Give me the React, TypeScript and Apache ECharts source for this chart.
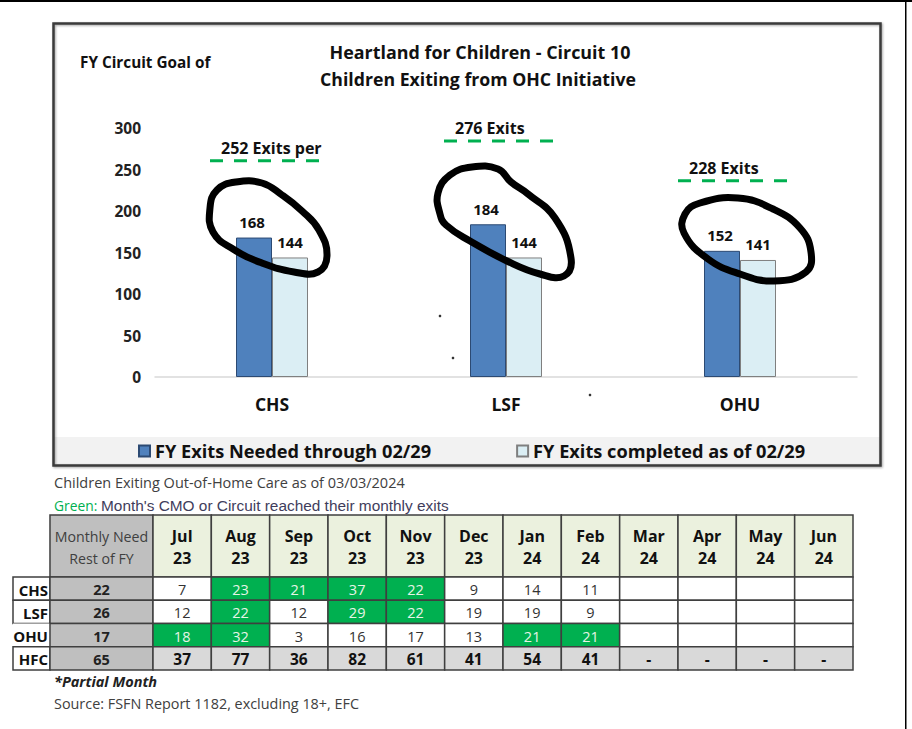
import React, { useEffect, useRef } from "react";
import * as echarts from "echarts";

// ---------- data ----------
const categories = ["CHS", "LSF", "OHU"];
const neededValues = [168, 184, 152];
const completedValues = [144, 144, 141];
const goalValues = [252, 276, 228];
const goalLabels = ["252 Exits per", "276 Exits", "228 Exits"];
const seriesNames = ["FY Exits Needed through 02/29", "FY Exits completed as of 02/29"];

const months = ["Jul\n23", "Aug\n23", "Sep\n23", "Oct\n23", "Nov\n23", "Dec\n23", "Jan\n24", "Feb\n24", "Mar\n24", "Apr\n24", "May\n24", "Jun\n24"];
const rowNames = ["CHS", "LSF", "OHU", "HFC"];
const monthlyNeed = [22, 26, 17, 65];
const chsMonthly = [7, 23, 21, 37, 22, 9, 14, 11];
const lsfMonthly = [12, 22, 12, 29, 22, 19, 19, 9];
const ohuMonthly = [18, 32, 3, 16, 17, 13, 21, 21];
const hfcMonthly = [37, 77, 36, 82, 61, 41, 54, 41];
const chsGreen = [0, 1, 1, 1, 1, 0, 0, 0];
const lsfGreen = [0, 1, 0, 1, 1, 0, 0, 0];
const ohuGreen = [1, 1, 0, 0, 0, 0, 1, 1];

const FONT = "'Open Sans', Lato, 'Noto Sans', sans-serif";

type Cell = {
  x0: number; x1: number; y0: number; y1: number;
  text: string; fill: string; color: string; bold: boolean; size: number;
  border: boolean; align?: string;
};

function buildCells(): Cell[] {
  const cells: Cell[] = [];
  const HEAD = -2.667;
  const NEED0 = -1.766;
  const LAB0 = -2.4;
  cells.push({ x0: NEED0, x1: 0, y0: HEAD, y1: 0, text: "Monthly Need\nRest of FY", fill: "#bfbfbf", color: "#404040", bold: false, size: 14.2, border: true });
  months.forEach((m, i) => {
    cells.push({ x0: i, x1: i + 1, y0: HEAD, y1: 0, text: m, fill: "#ebf1de", color: "#111", bold: true, size: 16, border: true });
  });
  const vals = [chsMonthly, lsfMonthly, ohuMonthly, hfcMonthly];
  const greens = [chsGreen, lsfGreen, ohuGreen, []];
  rowNames.forEach((name, r) => {
    const isTotal = r === 3;
    cells.push({ x0: LAB0, x1: NEED0, y0: r, y1: r + 1, text: name, fill: "#ffffff", color: "#111", bold: true, size: 15, border: r !== 2, align: "right" });
    cells.push({ x0: NEED0, x1: 0, y0: r, y1: r + 1, text: String(monthlyNeed[r]), fill: "#bfbfbf", color: "#222", bold: true, size: 14.5, border: true });
    months.forEach((_, i) => {
      const v = vals[r][i];
      const g = greens[r][i] === 1;
      let text = v === undefined ? "" : String(v);
      if (isTotal && v === undefined) text = "-";
      cells.push({
        x0: i, x1: i + 1, y0: r, y1: r + 1, text,
        fill: g ? "#00b050" : isTotal ? "#d9d9d9" : "#ffffff",
        color: g ? "#e6f4e6" : isTotal ? "#111" : "#333",
        bold: isTotal, size: isTotal ? 15.5 : 14.5, border: true,
      });
    });
  });
  return cells;
}

const loops: number[][][] = [
  [[213, 232], [210, 208], [217, 190], [236, 182], [262, 183], [282, 195], [302, 211], [319, 230], [327, 256], [318, 272], [294, 272], [262, 263], [233, 249]],
  [[440, 214], [438, 193], [450, 175], [472, 167], [498, 169], [511, 182], [528, 194], [555, 218], [571, 258], [564, 276], [540, 274], [507, 261], [470, 241], [446, 225]],
  [[684, 233], [685, 214], [700, 203], [738, 198], [773, 209], [800, 228], [811, 252], [806, 272], [774, 281], [740, 274], [708, 259]],
];

function txt(text: string, x: number, y: number, font: string, fill: string, align = "left") {
  return {
    type: "text", z: 10,
    style: { text, x, y, fill, font, align, textAlign: align, verticalAlign: "middle", textVerticalAlign: "middle" },
  };
}

export default function App() {
  const ref = useRef<HTMLDivElement>(null);
  useEffect(() => {
    if (!ref.current) return;
    const chart = echarts.init(ref.current, undefined, { renderer: "svg" });
    const cells = buildCells();

    const graphics: any[] = [
      // page frame
      { type: "rect", shape: { x: 0, y: 0, width: 912, height: 2 }, style: { fill: "#000" }, z: 1 },
      { type: "rect", shape: { x: 905, y: 0, width: 1.5, height: 729 }, style: { fill: "#000" }, z: 1 },
      // legend band
      { type: "rect", shape: { x: 54, y: 437, width: 826, height: 28 }, style: { fill: "#f2f2f2" }, z: -1 },
      // chart box
      { type: "rect", shape: { x: 53.5, y: 23.5, width: 827, height: 442 }, style: { fill: "none", stroke: "#3a3a3a", lineWidth: 2.5, shadowBlur: 2, shadowColor: "rgba(0,0,0,0.35)", shadowOffsetX: 1, shadowOffsetY: 1 }, z: 5 },
      // titles
      txt("Heartland for Children - Circuit 10", 480, 52, `bold 17.9px ${FONT}`, "#111", "center"),
      txt("Children Exiting from OHC Initiative", 478, 79, `bold 17.7px ${FONT}`, "#111", "center"),
      txt("FY Circuit Goal of", 80, 62, `bold 15.3px ${FONT}`, "#111"),
      // stray dots
      { type: "circle", shape: { cx: 440, cy: 316, r: 1.3 }, style: { fill: "#333" }, z: 10 },
      { type: "circle", shape: { cx: 453, cy: 358, r: 1.3 }, style: { fill: "#333" }, z: 10 },
      { type: "circle", shape: { cx: 590, cy: 395, r: 1.3 }, style: { fill: "#333" }, z: 10 },
      // texts under chart
      txt("Children Exiting Out-of-Home Care as of 03/03/2024", 54, 482, `14.5px ${FONT}`, "#404040"),
      txt("Green:", 54, 505, `13.8px ${FONT}`, "#00b050"),
      txt("Month's CMO or Circuit reached their monthly exits", 101, 505, `15.4px 'Liberation Sans', Arial, sans-serif`, "#3f3d5c"),
      txt("*Partial Month", 54, 681, `italic bold 14.5px ${FONT}`, "#222"),
      txt("Source: FSFN Report 1182, excluding 18+, EFC", 54, 703, `14.4px ${FONT}`, "#404040"),
    ];
    loops.forEach((pts) => {
      graphics.push({ type: "polygon", shape: { points: pts, smooth: 0.45 }, style: { fill: "none", stroke: "#000", lineWidth: 7 }, z: 100 });
    });

    chart.setOption({
      animation: false,
      backgroundColor: "#ffffff",
      textStyle: { fontFamily: FONT },
      grid: [
        { left: 155, top: 128, width: 702, height: 249 },
        { left: 13, top: 515, width: 840, height: 155 },
      ],
      legend: {
        left: 133, top: 437, itemWidth: 11, itemHeight: 11, itemGap: 85, icon: "rect",
        data: seriesNames,
        textStyle: { fontFamily: FONT, fontWeight: "bold", fontSize: 18.2, color: "#111" },
      },
      xAxis: [
        {
          type: "category", gridIndex: 0, data: categories,
          axisLine: { lineStyle: { color: "#d9d9d9", width: 1.5 } },
          axisTick: { show: false },
          axisLabel: { fontFamily: FONT, fontWeight: "bold", fontSize: 17.5, color: "#111", margin: 18 },
        },
        { type: "value", gridIndex: 1, min: -2.4, max: 12, show: false },
      ],
      yAxis: [
        {
          type: "value", gridIndex: 0, min: 0, max: 300, interval: 50,
          axisLine: { show: false }, axisTick: { show: false }, splitLine: { show: false },
          axisLabel: { fontFamily: FONT, fontWeight: "bold", fontSize: 15.5, color: "#222", margin: 14 },
        },
        { type: "value", gridIndex: 1, min: -2.667, max: 4, inverse: true, show: false },
      ],
      series: [
        {
          name: seriesNames[0], type: "bar", xAxisIndex: 0, yAxisIndex: 0,
          data: neededValues, barWidth: 36, barGap: "0%",
          itemStyle: { color: "#4f81bd", borderColor: "#2c4a73", borderWidth: 1 },
          label: { show: true, position: "top", distance: 8, fontFamily: FONT, fontWeight: "bold", fontSize: 15, color: "#111", offset: [-2, 0] },
        },
        {
          name: seriesNames[1], type: "bar", xAxisIndex: 0, yAxisIndex: 0,
          data: completedValues, barWidth: 36, barGap: "0%",
          itemStyle: { color: "#dbeef4", borderColor: "#7f7f7f", borderWidth: 1 },
          label: { show: true, position: "top", distance: 8, fontFamily: FONT, fontWeight: "bold", fontSize: 15, color: "#111" },
        },
        {
          type: "custom", xAxisIndex: 0, yAxisIndex: 0, silent: true, z: 20,
          data: goalValues.map((v, i) => [i, v]),
          renderItem: (params: any, api: any) => {
            const p = api.coord([api.value(0), api.value(1)]);
            const y = p[1] - 7;
            return {
              type: "group",
              children: [
                { type: "line", shape: { x1: p[0] - 62, y1: y, x2: p[0] + 50, y2: y }, style: { stroke: "#00b050", lineWidth: 3, lineDash: [13, 11] } },
                { type: "text", style: { text: goalLabels[params.dataIndex], x: p[0] - 51, y: y - 13, fill: "#111", font: `bold 16px ${FONT}`, align: "left", textAlign: "left", verticalAlign: "middle", textVerticalAlign: "middle" } },
              ],
            };
          },
        },
        {
          type: "custom", xAxisIndex: 1, yAxisIndex: 1, silent: true, z: 5,
          data: cells.map((c) => [c.x0, c.x1, c.y0, c.y1]),
          encode: { x: [0, 1], y: [2, 3] },
          renderItem: (params: any, api: any) => {
            const c = cells[params.dataIndex];
            const a = api.coord([api.value(0), api.value(2)]);
            const b = api.coord([api.value(1), api.value(3)]);
            const children: any[] = [
              {
                type: "rect",
                shape: { x: a[0], y: a[1], width: b[0] - a[0], height: b[1] - a[1] },
                style: { fill: c.fill, stroke: c.border ? "#3f3f3f" : "none", lineWidth: 1.5 },
              },
            ];
            if (c.text) {
              const right = c.align === "right";
              children.push({
                type: "text",
                style: {
                  text: c.text,
                  x: right ? b[0] - 2 : (a[0] + b[0]) / 2,
                  y: (a[1] + b[1]) / 2 + 1,
                  fill: c.color,
                  font: `${c.bold ? "bold " : ""}${c.size}px ${FONT}`,
                  lineHeight: 22,
                  align: right ? "right" : "center", textAlign: right ? "right" : "center",
                  verticalAlign: "middle", textVerticalAlign: "middle",
                },
              });
            }
            return { type: "group", children };
          },
        },
      ],
      graphic: graphics,
    });
    return () => chart.dispose();
  }, []);
  return (
    <div
      ref={ref}
      style={{ position: "absolute", left: 0, top: 0, width: 912, height: 729, background: "#fff" }}
    />
  );
}
